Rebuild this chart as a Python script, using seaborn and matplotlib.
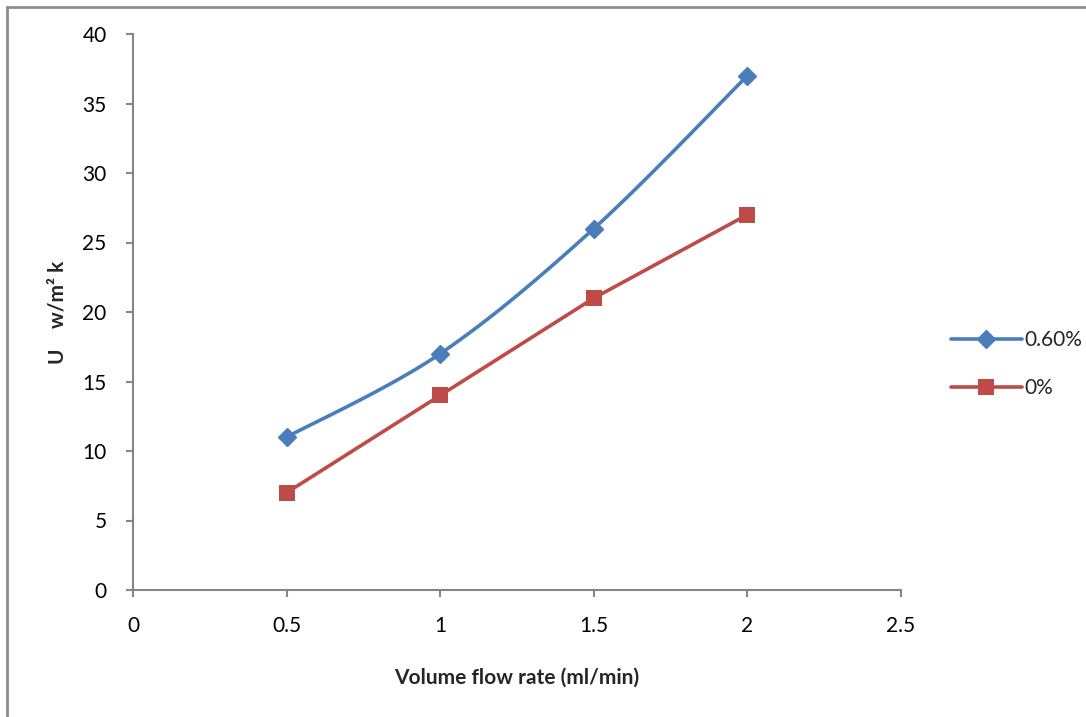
import numpy as np
import pandas as pd
import matplotlib
matplotlib.use("Agg")
import matplotlib.pyplot as plt
import seaborn as sns
from matplotlib.patches import Rectangle
from matplotlib.lines import Line2D

flow_rate = [0.5, 1.0, 1.5, 2.0]
u_060 = [11, 17, 26, 37]
u_0 = [7, 14, 21, 27]
series_names = ["0.60%", "0%"]
x_ticks = [0, 0.5, 1, 1.5, 2, 2.5]
x_tick_labels = ["0", "0.5", "1", "1.5", "2", "2.5"]
y_ticks = [0, 5, 10, 15, 20, 25, 30, 35, 40]

sns.set_theme(style="white")
plt.rcParams['font.family'] = ['Lato', 'DejaVu Sans']

fig = plt.figure(figsize=(10.86, 7.17), dpi=100)
ax = fig.add_axes([133/1086, 1-590/717, (901-133)/1086, (590-34)/717])

blue = "#4A7EBB"
red = "#BE4B48"
fs = 15

def smooth(xs, ys, n=40):
    xs = np.asarray(xs, float); ys = np.asarray(ys, float)
    P = np.column_stack([xs, ys])
    P = np.vstack([P[0], P, P[-1]])
    out = []
    for i in range(1, len(P) - 2):
        p0, p1, p2, p3 = P[i-1], P[i], P[i+1], P[i+2]
        c1 = p1 + (p2 - p0) / 6.0
        c2 = p2 - (p3 - p1) / 6.0
        t = np.linspace(0, 1, n)[:, None]
        seg = ((1-t)**3)*p1 + 3*((1-t)**2)*t*c1 + 3*(1-t)*t**2*c2 + t**3*p2
        out.append(seg if i == 1 else seg[1:])
    s = np.vstack(out)
    return s[:, 0], s[:, 1]

sx, sy = smooth(flow_rate, u_060)
sns.lineplot(x=sx, y=sy, ax=ax, color=blue, lw=2.6, sort=False, estimator=None)
ax.plot(flow_rate, u_060, ls="none", marker="D", ms=9, color=blue, zorder=4)
df0 = pd.DataFrame({"x": flow_rate, "y": u_0})
sns.lineplot(data=df0, x="x", y="y", ax=ax, color=red, lw=2.6, marker="s", ms=12,
             markeredgewidth=0, estimator=None)

handles = [Line2D([0], [0], color=blue, lw=2.6, marker="D", ms=9),
           Line2D([0], [0], color=red, lw=2.6, marker="s", ms=12, markeredgewidth=0)]
leg = fig.legend(handles, series_names, loc="upper left", bbox_to_anchor=(951/1086, 1-330/717),
                 frameon=False, fontsize=fs, handlelength=3.4, handletextpad=0.1,
                 labelspacing=1.35, borderaxespad=0, borderpad=0)

ax.set_xlim(0, 2.5)
ax.set_ylim(0, 40)
ax.set_xticks(x_ticks)
ax.set_xticklabels(x_tick_labels)
ax.set_yticks(y_ticks)
for s in ["top", "right"]:
    ax.spines[s].set_visible(False)
for s in ["left", "bottom"]:
    ax.spines[s].set_color("#868686")
    ax.spines[s].set_linewidth(1.5)
ax.tick_params(axis="both", which="major", direction="out", length=5, width=1.5,
               color="#868686", labelsize=fs, labelcolor="black", bottom=True, left=True)
ax.tick_params(axis="x", pad=14)
ax.tick_params(axis="y", pad=14)
ax.set_xlabel("Volume flow rate (ml/min)", fontsize=fs, fontweight="bold")
ax.xaxis.set_label_coords(0.5, -0.14)
ax.set_ylabel("U    w/m\u00b2 k", fontsize=fs, fontweight="bold", va="center")
ax.yaxis.set_label_coords((57-133)/768, 0.5)

fig.patches.append(Rectangle((7/1086, -0.1), 1.2, 1.1 - 7/717, transform=fig.transFigure,
                             fill=False, edgecolor="#8c8c8c", lw=2, figure=fig))

fig.savefig("out.png", dpi=100)
